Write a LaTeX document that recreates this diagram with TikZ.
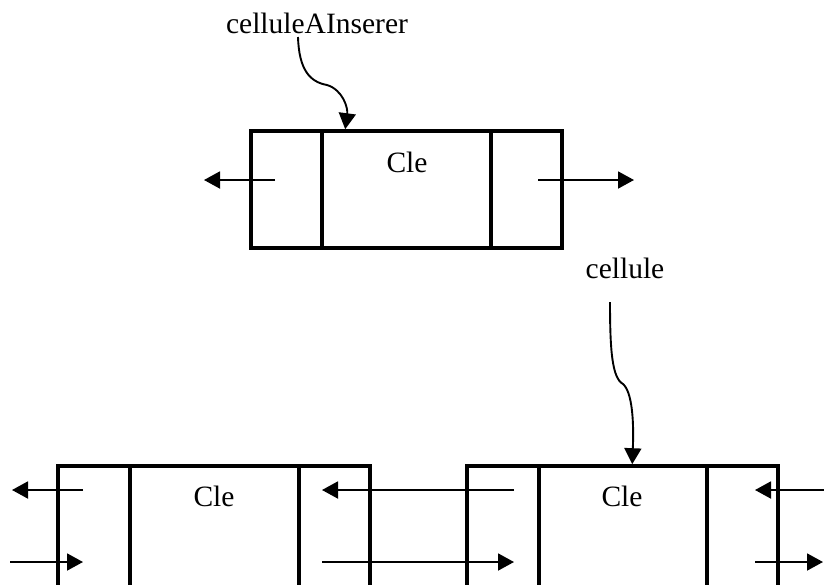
\documentclass[tikz,border=0pt]{standalone}
\usepackage{fontspec}
\setmainfont{Liberation Serif}
\usetikzlibrary{arrows.meta,calc}
\tikzset{
  part/.style={draw, line width=3.6pt, rectangle, inner sep=0pt},
  ptr/.style={line width=1.9pt, -{Triangle[length=16pt,width=17pt]}},
  lbl/.style={font=\fontsize{29.5}{34}\selectfont, inner sep=0pt, anchor=base},
}
\begin{document}
\begin{tikzpicture}[x=1pt,y=-1pt]
\useasboundingbox (0,0) rectangle (824,584);
\clip (0,0) rectangle (824,584);

% cell to insert
\node[part, minimum width=71, minimum height=117] (aL) at (286.5,189.5) {};
\node[part, minimum width=169, minimum height=117] (aK) at (406.5,189.5) {};
\node[part, minimum width=71, minimum height=117] (aR) at (526.5,189.5) {};
\node[lbl] (aCle) at (407,172) {Cle};
\coordinate (aLp) at (275,180);
\coordinate (aLt) at (204,180);
\coordinate (aRp) at (538,180);
\coordinate (aRt) at (634,180);
\draw[ptr] (aLp) -- (aLt);
\draw[ptr] (aRp) -- (aRt);

% left cell of the list
\node[part, minimum width=72, minimum height=150] (bL) at (94,541) {};
\node[part, minimum width=169, minimum height=150] (bK) at (214.5,541) {};
\node[part, minimum width=71, minimum height=150] (bR) at (334.5,541) {};
\node[lbl] (bCle) at (214,506) {Cle};

% right cell of the list
\node[part, minimum width=72, minimum height=150] (cL) at (503,541) {};
\node[part, minimum width=168, minimum height=150] (cK) at (623,541) {};
\node[part, minimum width=71, minimum height=150] (cR) at (742.5,541) {};
\node[lbl] (cCle) at (622,506) {Cle};

% pointers of the list
\coordinate (b1s) at (83,490);  \coordinate (b1t) at (12,490);
\coordinate (b2s) at (10,562);  \coordinate (b2t) at (83,562);
\coordinate (m1s) at (514,490); \coordinate (m1t) at (322,490);
\coordinate (m2s) at (322,562); \coordinate (m2t) at (514,562);
\coordinate (c1s) at (826,490); \coordinate (c1t) at (755,490);
\coordinate (c2s) at (755,562); \coordinate (c2t) at (823,562);
\draw[ptr] (b1s) -- (b1t);
\draw[ptr] (b2s) -- (b2t);
\draw[ptr] (m1s) -- (m1t);
\draw[ptr] (m2s) -- (m2t);
\draw[ptr] (c1s) -- (c1t);
\draw[ptr] (c2s) -- (c2t);

% variable names
\node[lbl] (vA) at (317,33) {celluleAInserer};
\node[lbl] (vC) at (625,278) {cellule};
\coordinate (vAs) at (298,37);
\coordinate (vAm) at (327,85);
\path (aK.north west) ++(25,0) coordinate (vAt);
\coordinate (vCs) at (610,302);
\coordinate (vCm) at (623,384);
\path (cK.north west) ++(95,0) coordinate (vCt);
\draw[ptr] (vAs) .. controls (299,70) and (310,82) .. (vAm)
  .. controls (343,90) and (348,108) .. (vAt);
\draw[ptr] (vCs) .. controls (610,350) and (612,378) .. (vCm)
  .. controls (632,392) and (634,420) .. (vCt);
\end{tikzpicture}
\end{document}
